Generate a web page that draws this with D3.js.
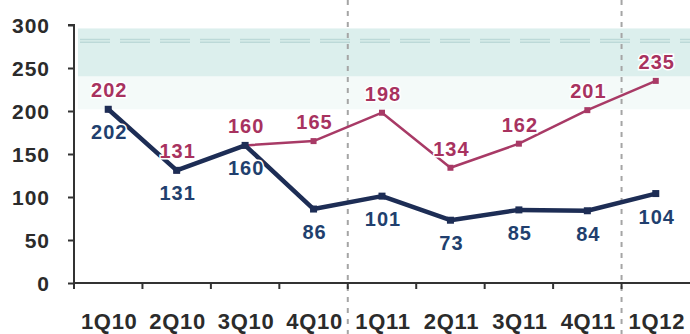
<!DOCTYPE html>
<html>
<head>
<meta charset="utf-8">
<script src="https://cdn.jsdelivr.net/npm/d3@7"></script>
<style>
  html, body { margin: 0; padding: 0; background: #ffffff; }
  svg { display: block; }
  text { font-family: "Liberation Sans", Arial, sans-serif; font-weight: bold; }
</style>
</head>
<body>
<svg id="chart" width="690" height="334"></svg>
<script>
// Quarterly figures
const quarters = ["1Q10", "2Q10", "3Q10", "4Q10", "1Q11", "2Q11", "3Q11", "4Q11", "1Q12"];
const pinkSeries = [202, 131, 160, 165, 198, 134, 162, 201, 235];
const navySeries = [202, 131, 160, 86, 101, 73, 85, 84, 104];
const yTicks = [0, 50, 100, 150, 200, 250, 300];
// Quarters preceded by a dashed year separator
const yearStarts = ["1Q11", "1Q12"];

const W = 690, H = 334;
const plot = { left: 74, right: 690, top: 25, bottom: 283 };

const svg = d3.select("#chart");

const x = d3.scaleBand().domain(quarters).range([plot.left, plot.right]).padding(0);
const y = d3.scaleLinear().domain([0, 300]).range([plot.bottom, plot.top]);
const cx = d => x(d) + x.bandwidth() / 2;

// Pale teal shaded band near the top of the plot
const band = svg.append("g");
band.append("rect")
  .attr("x", plot.left + 4).attr("y", y(296))
  .attr("width", plot.right - plot.left - 4).attr("height", y(240) - y(296))
  .attr("fill", "#dcefed");
band.append("rect")
  .attr("x", plot.left + 4).attr("y", y(240))
  .attr("width", plot.right - plot.left - 4).attr("height", y(202) - y(240))
  .attr("fill", "#f4faf9");
[y(283), y(280)].forEach(yy => {
  band.append("line")
    .attr("x1", plot.left + 6).attr("x2", plot.right)
    .attr("y1", yy).attr("y2", yy)
    .attr("stroke", "#bcd9d8").attr("stroke-width", 1.5)
    .attr("stroke-dasharray", "30,10");
});

// Dashed year separators
yearStarts.forEach(q => {
  svg.append("line")
    .attr("x1", x(q)).attr("x2", x(q))
    .attr("y1", 0).attr("y2", H)
    .attr("stroke", "#a5a5a5").attr("stroke-width", 2)
    .attr("stroke-dasharray", "5,6");
});

// Axes
const yAxis = d3.axisLeft(y).tickValues(yTicks).tickSize(6).tickPadding(18);
const gy = svg.append("g").attr("transform", `translate(${plot.left},0)`).call(yAxis);
gy.select(".domain").attr("stroke", "#333").attr("stroke-width", 2)
  .attr("d", `M-6,${plot.top}H0V${plot.bottom}`);
gy.selectAll(".tick line").attr("stroke", "#333").attr("stroke-width", 2);
gy.selectAll(".tick text").attr("fill", "#2b2b2b").attr("font-size", 21)
  .attr("font-family", "Liberation Sans, Arial, sans-serif").attr("font-weight", "bold")
  .attr("letter-spacing", 1).attr("dy", "0.36em");

const boundaries = quarters.map(q => x(q));
const gx = svg.append("g").attr("transform", `translate(0,${plot.bottom})`);
gx.append("line").attr("x1", plot.left).attr("x2", plot.right).attr("y1", 0).attr("y2", 0)
  .attr("stroke", "#333").attr("stroke-width", 2);
gx.selectAll(".btick").data(boundaries).join("line")
  .attr("x1", d => d).attr("x2", d => d).attr("y1", 0).attr("y2", 6)
  .attr("stroke", "#333").attr("stroke-width", 2);
gx.selectAll(".qlabel").data(quarters).join("text")
  .attr("x", d => cx(d) + 1).attr("y", 46)
  .attr("text-anchor", "middle").attr("font-size", 22)
  .attr("letter-spacing", 0.7)
  .attr("fill", "#2b2b2b").text(d => d);

// Series lines
const line = d3.line().x((d, i) => cx(quarters[i])).y(d => y(d));

function drawSeries(values, color, width, marker) {
  svg.append("path").datum(values)
    .attr("d", line).attr("fill", "none")
    .attr("stroke", color).attr("stroke-width", width)
    .attr("stroke-linejoin", "round");
  svg.append("g").selectAll("rect").data(values).join("rect")
    .attr("x", (d, i) => cx(quarters[i]) - marker / 2)
    .attr("y", d => y(d) - marker / 2)
    .attr("width", marker).attr("height", marker)
    .attr("fill", color);
}

drawSeries(pinkSeries, "#a83a66", 2.5, 6);
drawSeries(navySeries, "#1d2d55", 4.5, 7);

// Value labels
function drawLabels(values, color, dy) {
  svg.append("g").selectAll("text").data(values).join("text")
    .attr("x", (d, i) => cx(quarters[i]) + 1)
    .attr("y", d => y(d) + dy)
    .attr("text-anchor", "middle").attr("font-size", 20)
    .attr("letter-spacing", 1)
    .attr("fill", color)
    .attr("stroke", "#ffffff").attr("stroke-width", 3).attr("paint-order", "stroke")
    .text(d => d);
}

drawLabels(pinkSeries, "#a8325f", -12);
drawLabels(navySeries, "#213f6e", 30);
</script>
</body>
</html>
